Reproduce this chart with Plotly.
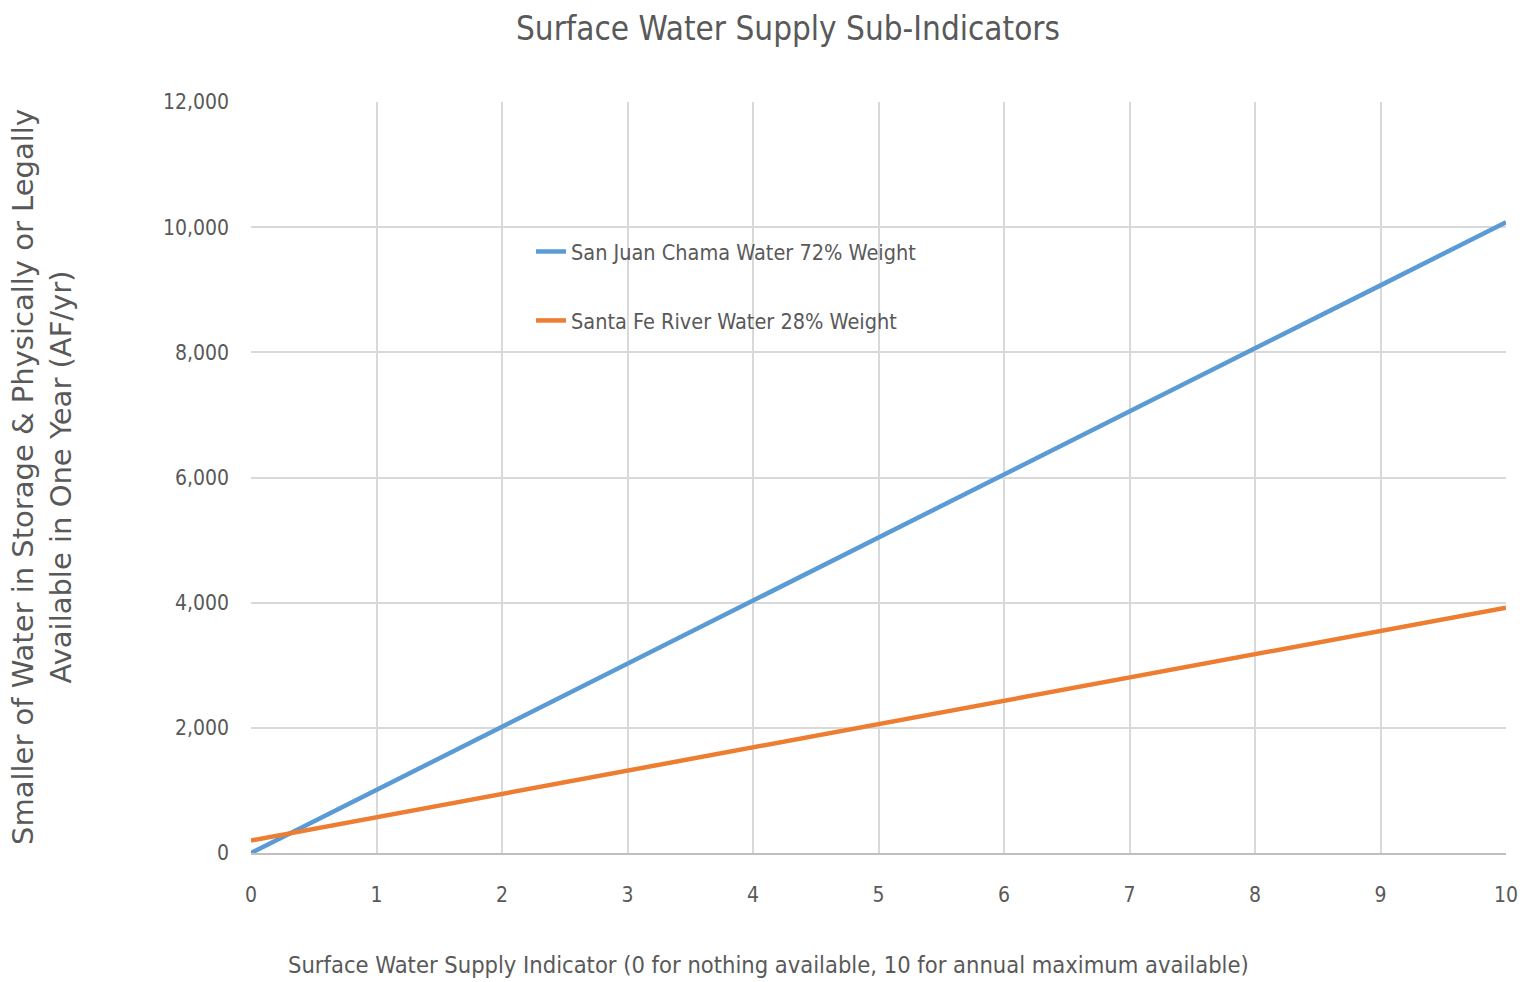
import plotly.graph_objects as go

x_vals = [0, 1, 2, 3, 4, 5, 6, 7, 8, 9, 10]
san_juan = [0, 1010, 2015, 3025, 4030, 5040, 6050, 7055, 8065, 9070, 10080]
santa_fe = [200, 572, 944, 1316, 1688, 2060, 2432, 2804, 3176, 3548, 3920]
series_names = ["San Juan Chama Water 72% Weight", "Santa Fe River Water 28% Weight"]
y_ticks = [0, 2000, 4000, 6000, 8000, 10000, 12000]
y_tick_text = ["0", "2,000", "4,000", "6,000", "8,000", "10,000", "12,000"]

NARROW = "Liberation Sans Narrow, Arial Narrow, DejaVu Sans Condensed, sans-serif"
GRAY = "#595959"

fig = go.Figure()
fig.add_trace(go.Scatter(x=x_vals, y=san_juan, mode="lines", name=series_names[0],
                         line=dict(color="#5B9BD5", width=4.5), legendgroup="a"))
fig.add_trace(go.Scatter(x=x_vals, y=santa_fe, mode="lines", name=series_names[1],
                         line=dict(color="#ED7D31", width=4.5), legendgroup="b"))

# white box behind legend, covering gridlines
fig.add_shape(type="rect", xref="paper", yref="paper",
              x0=(415 - 251) / 1255, x1=(1000 - 251) / 1255,
              y0=(853 - 355) / 751, y1=(853 - 218) / 751,
              fillcolor="white", line=dict(width=0), layer="between")

fig.update_layout(
    width=1525, height=982,
    margin=dict(l=251, r=19, t=102, b=129, autoexpand=False),
    paper_bgcolor="white", plot_bgcolor="white",
    title=dict(text="Surface Water Supply Sub-Indicators", x=(788) / 1525, xanchor="center",
               y=1 - 28 / 982, yanchor="middle",
               font=dict(family=NARROW, size=33, color=GRAY)),
    xaxis=dict(range=[0, 10], tickvals=x_vals, showgrid=True, gridcolor="#d9d9d9", gridwidth=2,
               zeroline=False, showline=True, linecolor="#bfbfbf", linewidth=2,
               tickfont=dict(family=NARROW, size=21, color=GRAY), ticks="",
               ticklabelstandoff=22, automargin=False),
    yaxis=dict(range=[0, 12000], tickvals=y_ticks, ticktext=y_tick_text, showgrid=True,
               gridcolor="#d9d9d9", gridwidth=2, zeroline=False, showline=False,
               tickfont=dict(family=NARROW, size=21, color=GRAY), ticks="",
               ticklabelstandoff=21, automargin=False),
    legend=dict(x=(531 - 251) / 1255, y=(853 - 231) / 751, xanchor="left", yanchor="top",
                bgcolor="rgba(0,0,0,0)", font=dict(family=NARROW, size=21.5, color=GRAY),
                tracegroupgap=38, traceorder="grouped"),
    showlegend=True,
)

fig.add_annotation(text="Surface Water Supply Indicator (0 for nothing available, 10 for annual maximum available)",
                   xref="paper", yref="paper", x=(768 - 251) / 1255, y=-(965 - 853) / 751,
                   xanchor="center", yanchor="middle", showarrow=False,
                   font=dict(family=NARROW, size=23.5, color=GRAY))
fig.add_annotation(text="Smaller of Water in Storage & Physically or Legally<br>Available in One Year (AF/yr)",
                   xref="paper", yref="paper", x=-(251 - 42) / 1255, y=(853 - 477) / 751,
                   xanchor="center", yanchor="middle", showarrow=False, textangle=-90,
                   font=dict(family="DejaVu Sans, Verdana, sans-serif", size=29, color=GRAY))

fig.write_html("out.html", config={"displayModeBar": False},
               post_script="document.body.style.margin='0';")
